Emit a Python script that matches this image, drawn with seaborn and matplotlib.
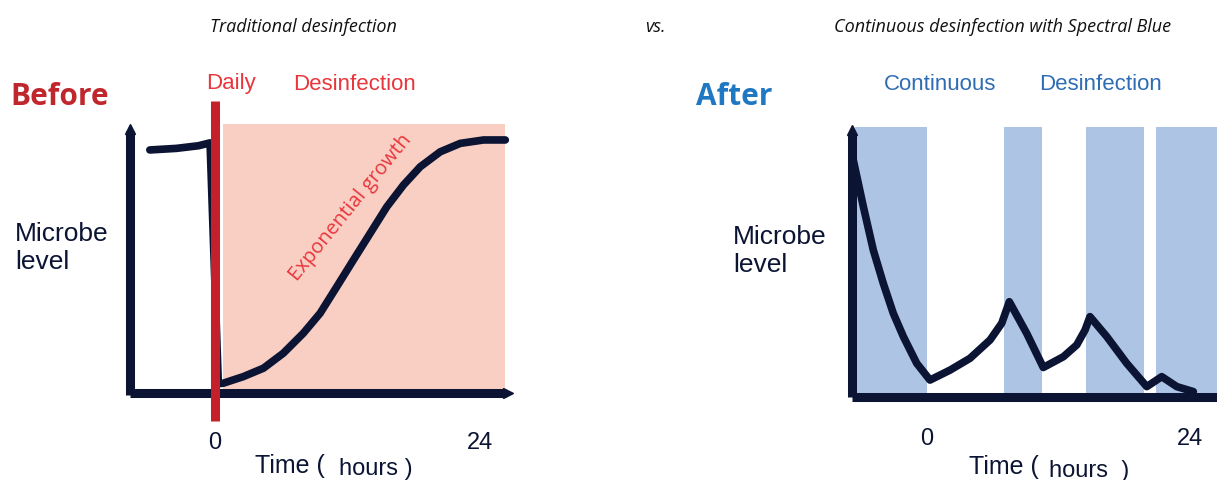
import matplotlib
matplotlib.use("Agg")
import matplotlib.pyplot as plt
import seaborn as sns
import pandas as pd

# DATA
# hours vs. microbe level (0-100)
before_hours = [-5.9, -3.5, -1.5, -0.45, 0.3, 0.75, 2.56, 4.38, 6.18, 7.99, 9.51, 11.02,
                12.53, 14.04, 15.55, 17.06, 18.57, 20.38, 22.19, 24.3, 26.27]
before_level = [92.4, 93.0, 94.0, 95.1, 3.5, 3.7, 6.2, 9.4, 15.1, 22.7, 30.3, 40.4,
                50.6, 60.7, 70.8, 79.1, 86.0, 91.7, 94.9, 96.2, 96.2]

after_hours = [-6.73, -5.81, -4.9, -3.99, -3.08, -2.16, -0.94, 0.27, 2.1, 3.92, 5.75,
               6.82, 7.51, 9.1, 10.61, 12.44, 13.66, 14.42, 14.87, 16.4, 18.22, 20.05,
               21.42, 22.79, 24.3]
after_level = [89.7, 71.9, 55.3, 42.6, 31.2, 22.3, 12.1, 5.7, 9.5, 14.0, 21.0,
               27.4, 35.6, 23.5, 10.5, 14.6, 19.1, 24.8, 29.9, 22.3, 12.1, 3.2,
               7.0, 3.2, 1.3]

daily_time = 0
growth_band = (0.72, 26.27)
continuous_bands = [(-6.6, 0.0), (7.0, 10.5), (14.5, 19.8), (20.9, 26.5)]
tick_hours = [0, 24]
tick_labels = ["0", "24"]

NAVY = "#0b1433"
RED = "#c3202b"
PINK = "#f9cfc4"
BLUE_BAND = "#adc4e4"
TXT_RED = "#e8363c"
TXT_BLUE = "#2e6db4"

sns.set_style("white")
plt.rcParams["font.family"] = ["Liberation Sans", "DejaVu Sans"]

W, H = 1217, 480
fig = plt.figure(figsize=(W / 100, H / 100), dpi=100)


def px_axes(x0, y0, x1, y1):
    return fig.add_axes([x0 / W, 1 - y1 / H, (x1 - x0) / W, (y1 - y0) / H])


# BEFORE PANEL
ax1 = px_axes(120, 95, 520, 425)
ax1.set_xlim(-8.6, 27.6)
ax1.set_ylim(-12.2, 113.3)
ax1.axvspan(growth_band[0], growth_band[1], ymin=(0 + 12.2) / 125.5, ymax=(102.3 + 12.2) / 125.5,
            color=PINK, lw=0, zorder=0)
df1 = pd.DataFrame({"hours": before_hours, "level": before_level})
sns.lineplot(data=df1, x="hours", y="level", ax=ax1, color=NAVY, lw=5.5,
             sort=False, estimator=None, zorder=3, solid_joinstyle="round")
ax1.plot([-7.7, -7.7], [-0.8, 99.5], color=NAVY, lw=6.5, solid_capstyle="butt", zorder=4)
ax1.plot([-7.7], [100.5], marker="^", ms=7, color=NAVY, zorder=4)
ax1.plot([-7.7, 26.3], [0, 0], color=NAVY, lw=6.5, solid_capstyle="butt", zorder=4)
ax1.plot([26.5], [0], marker=">", ms=7, color=NAVY, zorder=4)
ax1.plot([daily_time, daily_time], [-10.6, 111], color=RED, lw=6.5, solid_capstyle="butt", zorder=5)
ax1.text(12.3, 70.5, "Exponential growth", rotation=51, color=TXT_RED, fontsize=14.5,
         family=["Open Sans", "DejaVu Sans"], ha="center", va="center", zorder=6)

# AFTER PANEL
ax2 = px_axes(840, 95, 1217, 425)
ax2.set_xlim(-7.94, 26.46)
ax2.set_ylim(-11.45, 114.5)
for a, b in continuous_bands:
    ax2.axvspan(a, b, ymin=(-0.76 + 11.45) / 125.95, ymax=(102.3 + 11.45) / 125.95,
                color=BLUE_BAND, lw=0, zorder=0)
df2 = pd.DataFrame({"hours": after_hours, "level": after_level})
sns.lineplot(data=df2, x="hours", y="level", ax=ax2, color=NAVY, lw=5.5,
             sort=False, estimator=None, zorder=3)
ax2.plot([-6.84, -6.84], [-0.76, 100.0], color=NAVY, lw=6.5, solid_capstyle="butt", zorder=4)
ax2.plot([-6.84], [101.0], marker="^", ms=7, color=NAVY, zorder=4)
ax2.plot([-6.84, 26.46], [-0.76, -0.76], color=NAVY, lw=6.5, solid_capstyle="butt", zorder=4)

for ax, pad in ((ax1, 5), (ax2, 2)):
    ax.set_xticks(tick_hours)
    ax.set_xticklabels(tick_labels, fontsize=17, color=NAVY)
    ax.tick_params(axis="x", length=0, pad=pad)
    ax.set_yticks([])
    ax.set_xlabel("")
    ax.set_ylabel("")
    for s in ax.spines.values():
        s.set_visible(False)
    ax.patch.set_alpha(0)


def ftxt(x, y, s, **kw):
    fig.text(x / W, 1 - y / H, s, **kw)


# TEXT
ital = dict(family=["Open Sans", "DejaVu Sans"], style="italic", fontsize=13,
            color="#111111", va="center")
ftxt(303, 27, "Traditional desinfection", ha="center", **ital)
ftxt(655, 27, "vs.", ha="center", **ital)
ftxt(1003, 27, "Continuous desinfection with Spectral Blue", ha="center", **ital)

ftxt(10, 97, "Before", family=["Open Sans", "DejaVu Sans"], weight="bold", fontsize=21.5,
     color="#c0272d", va="center")
ftxt(696, 97, "After", family=["Open Sans", "DejaVu Sans"], weight="bold", fontsize=21.5,
     color="#1f78c1", va="center")

ftxt(206, 84, "Daily", fontsize=16, color=TXT_RED, va="center")
ftxt(293, 84, "Desinfection", fontsize=16, color=TXT_RED, va="center")
ftxt(884, 85, "Continuous", fontsize=16, color=TXT_BLUE, va="center")
ftxt(1039, 85, "Desinfection", fontsize=16, color=TXT_BLUE, va="center")

for x, y in ((15, 248), (733, 251)):
    ftxt(x, y, "Microbe\nlevel", fontsize=19, color=NAVY, va="center", linespacing=1.2)

ftxt(255, 466, "Time (", fontsize=18, color=NAVY, va="center")
ftxt(339, 469, "hours )", fontsize=17, color=NAVY, va="center")
ftxt(969, 467, "Time (", fontsize=18, color=NAVY, va="center")
ftxt(1049, 471, "hours  )", fontsize=17, color=NAVY, va="center")

fig.savefig("out.png", dpi=100)
